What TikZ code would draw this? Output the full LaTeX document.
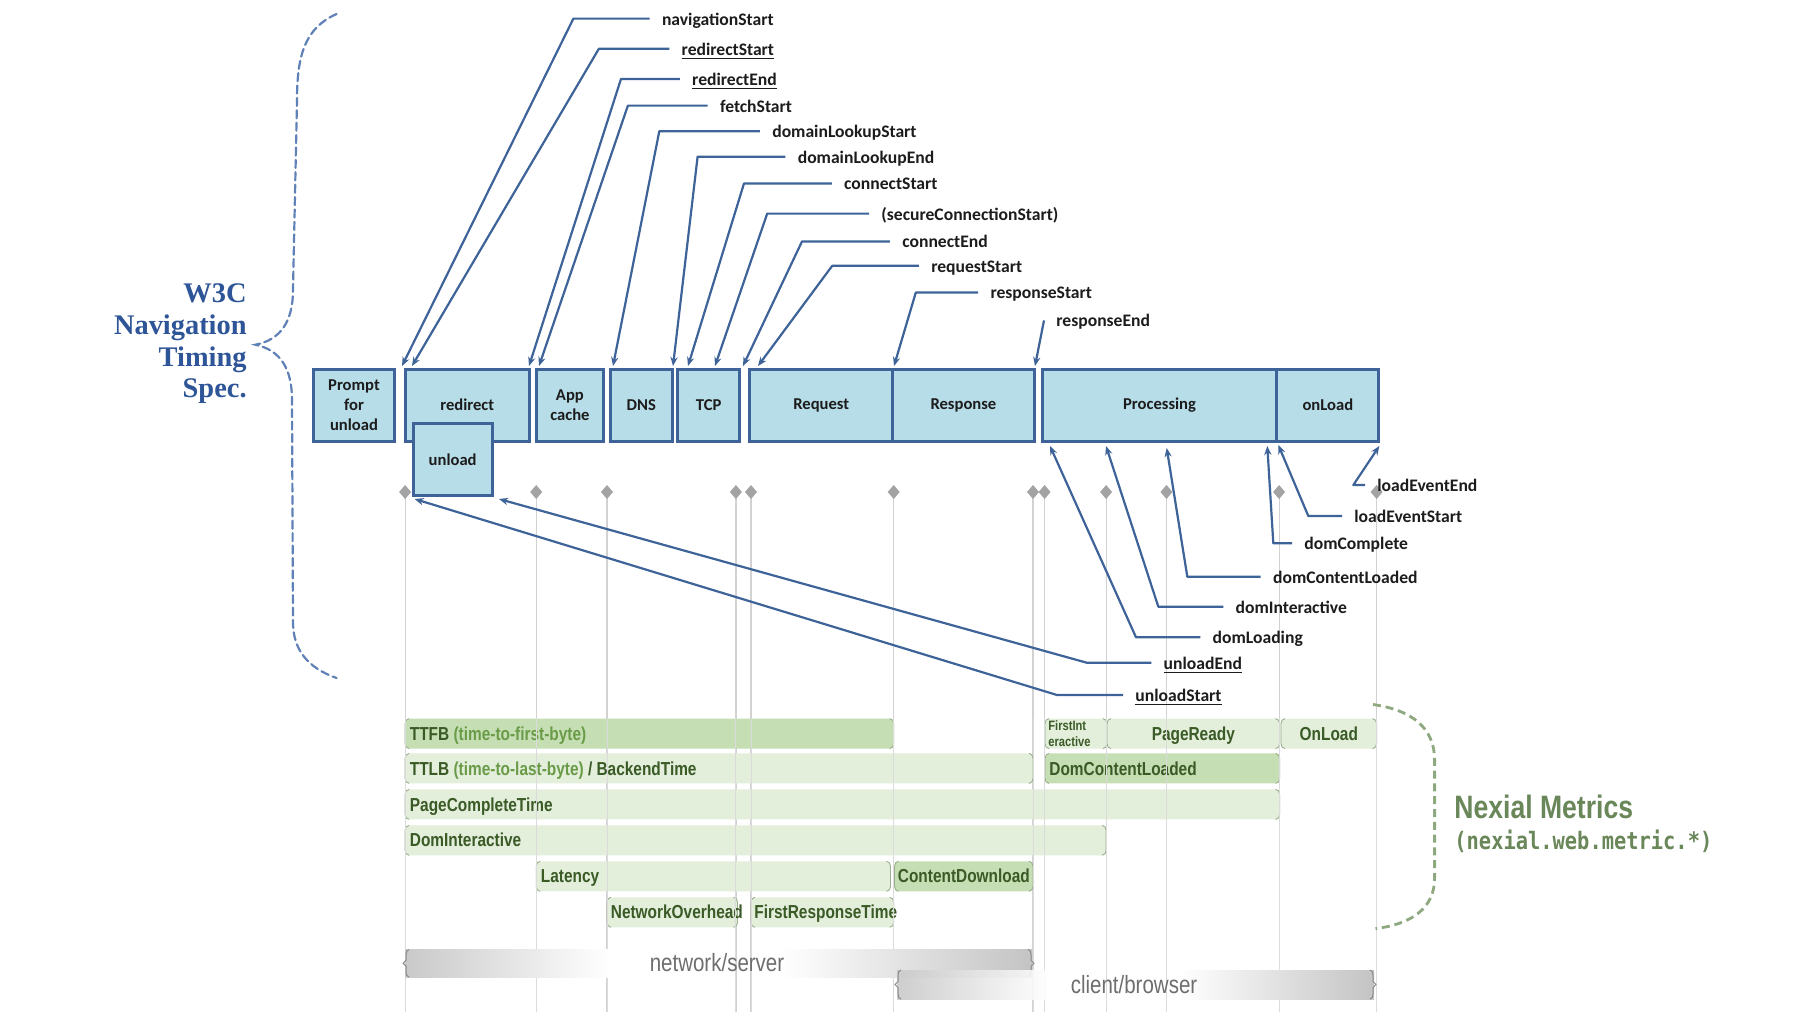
\documentclass[tikz,border=0pt]{standalone}
\usepackage{fontspec}
\setmainfont{Carlito}
\newfontfamily\narrowsans{Liberation Sans}[FakeStretch=0.82]
\newfontfamily\specserif{Liberation Serif}
\newfontfamily\metricmono{DejaVu Sans Mono}[FakeStretch=0.85]
\usetikzlibrary{arrows.meta}

\definecolor{navblue}{HTML}{3E6398}
\definecolor{boxfill}{HTML}{B7DDE8}
\definecolor{specblue}{HTML}{2E5597}
\definecolor{bracebl}{HTML}{5F81B8}
\definecolor{labelink}{HTML}{1C1C1C}
\definecolor{gridgray}{HTML}{D2D2D2}
\definecolor{diagray}{HTML}{A3A3A3}
\definecolor{bardark}{HTML}{C6DEB4}
\definecolor{barlight}{HTML}{E3EEDB}
\definecolor{bartext}{HTML}{3A5A26}
\definecolor{barsub}{HTML}{6A9B48}
\definecolor{baredge}{HTML}{9AAE8E}
\definecolor{nexgreen}{HTML}{6A8759}
\definecolor{nexbrace}{HTML}{8EA880}
\definecolor{zonegray}{HTML}{C9C9C9}
\definecolor{zonetext}{HTML}{6E6E6E}

% timing phase box: name, x1, x2, y1, y2, text
\newcommand\phasebox[6]{%
  \pgfmathsetmacro\pbw{(#3-#2)*0.5}%
  \pgfmathsetmacro\pbh{(#5-#4)*0.5}%
  \node[phase, minimum width=\pbw pt, minimum height=\pbh pt] (#1) at ({(#2+#3)/2},{(#4+#5)/2}) {#6};}

% metric bar: x1, x2, y centre, fill
\newcommand\metricbar[4]{%
  \fill[#4, rounded corners=2pt] (#1,#3-15) rectangle (#2,#3+15);
  \draw[baredge, line width=0.45pt] (#1+4,#3-15) to[out=180,in=90] (#1,#3-10) -- (#1,#3+10) to[out=-90,in=180] (#1+4,#3+15);
  \draw[baredge, line width=0.45pt] (#2-4,#3-15) to[out=0,in=90] (#2,#3-10) -- (#2,#3+10) to[out=-90,in=0] (#2-4,#3+15);}

% zone bar ends: x1, x2, top, bottom
\newcommand\zoneends[4]{%
  \draw[zonetext!80, line width=0.5pt] (#1+4,#3) to[out=180,in=90] (#1+1,#3+5) -- (#1+1,{(#3+#4)/2-3}) -- (#1-2,{(#3+#4)/2}) -- (#1+1,{(#3+#4)/2+3}) -- (#1+1,#4-5) to[out=-90,in=180] (#1+4,#4);
  \draw[zonetext!80, line width=0.5pt] (#2-4,#3) to[out=0,in=90] (#2-1,#3+5) -- (#2-1,{(#3+#4)/2-3}) -- (#2+2,{(#3+#4)/2}) -- (#2-1,{(#3+#4)/2+3}) -- (#2-1,#4-5) to[out=-90,in=0] (#2-4,#4);}

\newcommand\subnote[1]{{\color{barsub}#1}}

\begin{document}
\begin{tikzpicture}[x=0.5pt, y=-0.5pt,
  phase/.style={draw=navblue, line width=1.5pt, fill=boxfill, text=labelink,
    font=\bfseries\fontsize{8.3}{9.9}\selectfont, align=center, inner sep=0pt},
  conn/.style={draw=navblue, line width=1.1pt, line join=round,
    -{Stealth[length=4.5pt,width=3.6pt]}},
  lbl/.style={anchor=west, inner xsep=6pt, inner ysep=0pt, text=labelink,
    text height=7.2pt, text depth=0.8pt,
    font=\bfseries\fontsize{8.8}{10}\selectfont},
  bartxt/.style={anchor=west, inner sep=0pt, text=bartext,
    text height=7.2pt, text depth=0.6pt,
    font=\narrowsans\bfseries\fontsize{9.4}{10}\selectfont},
  zonetxt/.style={inner sep=0pt, text=zonetext,
    font=\narrowsans\fontsize{12.5}{14}\selectfont}]

\useasboundingbox (0,0) rectangle (1820,1024);
\fill[white] (0,0) rectangle (1820,1024);

% ---------- grid of event instants ----------
\foreach \gx in {405.1,536.2,607,735.9,751,893.7,1033,1044.6,1106.1,1166.5,1279.1,1376.6}{
  \draw[gridgray, line width=0.6pt] (\gx,492) -- (\gx,1012);
  \fill[diagray] (\gx-6,492) -- (\gx,485) -- (\gx+6,492) -- (\gx,499) -- cycle;
}

% ---------- phase boxes ----------
\phasebox{prompt}{313.4}{394.6}{369}{441}{Prompt\\for\\unload}
\phasebox{redirect}{405.1}{529.3}{369}{441}{redirect}
\phasebox{appcache}{536.2}{603.6}{369}{441}{App\\cache}
\phasebox{dns}{610.5}{672}{369}{441}{DNS}
\phasebox{tcp}{677.9}{739.4}{369}{441}{TCP}
\phasebox{request}{749.8}{892.6}{369}{441}{Request}
\phasebox{response}{892.6}{1034.2}{369}{441}{Response}
\phasebox{processing}{1042.3}{1276.8}{369}{441}{Processing}
\phasebox{onload}{1276.8}{1378.9}{369}{441}{onLoad}
\phasebox{unload}{413.2}{492.1}{423.7}{495.6}{unload}

% ---------- arrow targets on the boxes ----------
\coordinate (tNav) at (402,366);
\coordinate (tRedS) at (412,366);
\coordinate (tRedE) at (529,366);
\coordinate (tFetch) at (539,366);
\coordinate (tDlS) at (613,366);
\coordinate (tDlE) at (673,366);
\coordinate (tConS) at (688,366);
\coordinate (tSec) at (715,366);
\coordinate (tConE) at (743,366);
\coordinate (tReqS) at (758,366);
\coordinate (tRespS) at (894,366);
\coordinate (tRespE) at (1035,366);
\coordinate (tLoadE) at (1379.3,446);
\coordinate (tLoadS) at (1278.3,445);
\coordinate (tDomC) at (1267.3,446);
\coordinate (tDomCL) at (1166.7,448);
\coordinate (tDomI) at (1106,446);
\coordinate (tDomL) at (1050,446);
\coordinate (tUnE) at (499,499);
\coordinate (tUnS) at (414.6,499);

% ---------- upper event labels ----------
\node[lbl] (navStart) at (649.6,18.6) {navigationStart};
\node[lbl] (redStart) at (669.3,48.7) {\underline{redirectStart}};
\node[lbl] (redEnd) at (679.8,78.9) {\underline{redirectEnd}};
\node[lbl] (fetchStart) at (707.6,105.6) {fetchStart};
\node[lbl] (dlStart) at (759.9,131.2) {domainLookupStart};
\node[lbl] (dlEnd) at (785.4,156.7) {domainLookupEnd};
\node[lbl] (conStart) at (831.8,183.4) {connectStart};
\node[lbl] (secStart) at (869,213.6) {(secureConnectionStart)};
\node[lbl] (conEnd) at (889.9,241.4) {connectEnd};
\node[lbl] (reqStart) at (918.9,265.8) {requestStart};
\node[lbl] (respStart) at (978.1,292.5) {responseStart};
\node[lbl] (respEnd) at (1044,320.4) {responseEnd};

\draw[conn] (navStart.west) -- (573.4,18.6) -- (tNav);
\draw[conn] (redStart.west) -- (598.9,48.7) -- (tRedS);
\draw[conn] (redEnd.west) -- (621,78.9) -- (tRedE);
\draw[conn] (fetchStart.west) -- (627.9,105.6) -- (tFetch);
\draw[conn] (dlStart.west) -- (659.3,131.2) -- (tDlS);
\draw[conn] (dlEnd.west) -- (697.6,156.7) -- (tDlE);
\draw[conn] (conStart.west) -- (744,183.4) -- (tConS);
\draw[conn] (secStart.west) -- (767.2,213.6) -- (tSec);
\draw[conn] (conEnd.west) -- (802,241.4) -- (tConE);
\draw[conn] (reqStart.west) -- (832.2,265.8) -- (tReqS);
\draw[conn] (respStart.west) -- (915.8,292.5) -- (tRespS);
\draw[conn] (respEnd.west) -- (tRespE);

% ---------- lower event labels ----------
\node[lbl] (loadEnd) at (1365,485) {loadEventEnd};
\node[lbl] (loadStart) at (1342,516) {loadEventStart};
\node[lbl] (domComplete) at (1292,543.3) {domComplete};
\node[lbl] (domCL) at (1260.7,576.7) {domContentLoaded};
\node[lbl] (domInter) at (1223.3,606.7) {domInteractive};
\node[lbl] (domLoading) at (1200.3,637.3) {domLoading};
\node[lbl] (unEnd) at (1151.3,662.7) {\underline{unloadEnd}};
\node[lbl] (unStart) at (1123,695) {\underline{unloadStart}};

\draw[conn] (loadEnd.west) -- (1353.3,485) -- (tLoadE);
\draw[conn] (loadStart.west) -- (1308.3,516) -- (tLoadS);
\draw[conn] (domComplete.west) -- (1273.3,543.3) -- (tDomC);
\draw[conn] (domCL.west) -- (1187.3,576.7) -- (tDomCL);
\draw[conn] (domInter.west) -- (1158.3,606.7) -- (tDomI);
\draw[conn] (domLoading.west) -- (1136,637.3) -- (tDomL);
\draw[conn] (unEnd.west) -- (1086.7,662.7) -- (tUnE);
\draw[conn] (unStart.west) -- (1057,695) -- (tUnS);

% ---------- W3C spec brace ----------
\draw[bracebl, line width=1.1pt, dash pattern=on 4pt off 2.2pt, line cap=round]
  (336.6,14) .. controls (305,28) and (297,55) .. (297,100)
  -- (293,290) .. controls (293,322) and (280,340) .. (255.4,344.7)
  .. controls (280,350) and (292,368) .. (292,400)
  -- (293,622) .. controls (293,650) and (308,668) .. (336.6,678);
\node[anchor=east, align=right, inner sep=0pt, text=specblue,
  font=\specserif\bfseries\fontsize{14.2}{15.85}\selectfont] (spec) at (247,344)
  {W3C\\Navigation\\Timing\\Spec.};

% ---------- metric bars ----------
\metricbar{405.1}{893.7}{733.6}{bardark}
\metricbar{1045}{1107}{733.6}{barlight}
\metricbar{1107}{1279.6}{733.6}{barlight}
\metricbar{1281}{1376.6}{733.6}{barlight}
\metricbar{405.1}{1033}{768.4}{barlight}
\metricbar{1045}{1279.6}{768.4}{bardark}
\metricbar{405.1}{1279.6}{804.4}{barlight}
\metricbar{405.1}{1106.1}{840.3}{barlight}
\metricbar{536.2}{890.5}{876.3}{barlight}
\metricbar{894.5}{1033}{876.3}{bardark}
\metricbar{607}{737.5}{912.3}{barlight}
\metricbar{751}{893.7}{912.3}{barlight}

\node[bartxt] (ttfb) at (409.5,733.6) {TTFB \subnote{(time-to-first-byte)}};
\node[bartxt, align=left, text height=, text depth=, font=\narrowsans\bfseries\fontsize{6.8}{7.6}\selectfont] (firstint) at (1048,733.6) {FirstInt\\eractive};
\node[bartxt, anchor=center] (pageready) at (1193.3,733.6) {PageReady};
\node[bartxt, anchor=center] (onloadm) at (1328.8,733.6) {OnLoad};
\node[bartxt] (ttlb) at (409.5,768.4) {TTLB \subnote{(time-to-last-byte)} / BackendTime};
\node[bartxt] (domclm) at (1049,768.4) {DomContentLoaded};
\node[bartxt] (pagecomplete) at (409.5,804.4) {PageCompleteTime};
\node[bartxt] (dominterm) at (409.5,840.3) {DomInteractive};
\node[bartxt] (latency) at (540.5,876.3) {Latency};
\node[bartxt] (contentdl) at (897.5,876.3) {ContentDownload};
\node[bartxt] (netover) at (610.5,912.3) {NetworkOverhead};
\node[bartxt] (firstresp) at (754,912.3) {FirstResponseTime};

% ---------- grid lines stay visible across the bars ----------
\foreach \gx in {405.1,536.2,607,735.9,751,893.7,1033,1044.6,1106.1,1166.5,1279.1,1376.6}{
  \draw[gridgray!80, line width=0.5pt] (\gx,718) -- (\gx,1012);
}

% ---------- network / client zones ----------
\shade[left color=zonegray, right color=white] (405.1,949.5) rectangle (610,977);
\shade[left color=white, right color=zonegray!110] (780,949.5) rectangle (1032,977);
\zoneends{405.1}{1032}{949.5}{977}
\node[zonetxt] (netzone) at (717,963) {network/server};
\shade[left color=zonegray, right color=white, fill opacity=0.9] (897,970) rectangle (1050,999);
\shade[left color=white, right color=zonegray!110] (1180,970) rectangle (1374,999);
\zoneends{897}{1374}{970}{999}
\node[zonetxt] (clientzone) at (1134,984.5) {client/browser};

% ---------- Nexial metrics brace ----------
\draw[nexbrace, line width=1.4pt, dash pattern=on 4pt off 2.4pt]
  (1373,704.5) .. controls (1412,710) and (1434.6,728) .. (1434.6,760)
  -- (1434.6,878) .. controls (1434.6,908) and (1412,924) .. (1375.5,928.6);
\node[anchor=west, inner sep=0pt, text=nexgreen,
  font=\narrowsans\bfseries\fontsize{16.2}{18}\selectfont] (nexial) at (1454,807) {Nexial Metrics};
\node[anchor=west, inner sep=0pt, text=nexgreen,
  font=\metricmono\bfseries\fontsize{12}{14}\selectfont] (nexialns) at (1454,841) {(nexial.web.metric.*)};

\end{tikzpicture}
\end{document}
